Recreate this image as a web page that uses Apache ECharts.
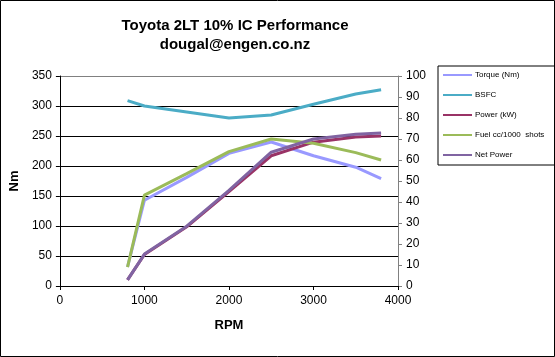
<!DOCTYPE html>
<html><head><meta charset="utf-8">
<script src="https://cdn.jsdelivr.net/npm/echarts@6/dist/echarts.min.js"></script>
<style>html,body{margin:0;padding:0;background:#fff}#c{width:555px;height:357px}</style>
</head><body><div id="c"></div>
<script>
const rpm = [800, 1000, 1500, 2000, 2500, 3000, 3500, 3800];
const torque = [32, 143, 181, 221, 240, 217, 198, 179];
const bsfc = [309, 300, 290, 280, 285, 303, 320, 327];
const power = [2.9, 15, 28.2, 45, 62, 68.5, 71, 71.4];
const fuel = [9, 43.3, 53.5, 64, 70, 68, 63.5, 60];
const netPower = [2.9, 15.2, 28.5, 45.5, 63.7, 70, 72.3, 72.8];
const seriesNames = ['Torque (Nm)', 'BSFC', 'Power (kW)', 'Fuel cc/1000  shots', 'Net Power'];
const titleLines = ['Toyota 2LT 10% IC Performance', 'dougal@engen.co.nz'];

const pair = arr => rpm.map((r, i) => [r, arr[i]]);
const font = 'Arial, "Liberation Sans", sans-serif';
const colors = ['#9999FF', '#4BACC6', '#993366', '#9BBB59', '#8064A2'];
const datas = [torque, bsfc, power, fuel, netPower];
const axisIdx = [0, 0, 1, 1, 1];

const chart = echarts.init(document.getElementById('c'), null, {renderer: 'canvas'});
chart.setOption({
  animation: false,
  backgroundColor: '#fff',
  textStyle: {fontFamily: font},
  graphic: [
    {type: 'rect', shape: {x: 0.5, y: 0.5, width: 554, height: 356}, style: {fill: 'none', stroke: '#000', lineWidth: 1}, z: 100},
    {type: 'text', x: 235, y: 26, style: {text: titleLines[0], font: 'bold 15px ' + font, fill: '#000', align: 'center', verticalAlign: 'middle'}},
    {type: 'text', x: 235, y: 45, style: {text: titleLines[1], font: 'bold 15px ' + font, fill: '#000', align: 'center', verticalAlign: 'middle'}}
  ],
  legend: {
    orient: 'vertical',
    left: 438, top: 66,
    padding: [5, 12, 6, 5],
    itemGap: 12,
    itemWidth: 29, itemHeight: 2,
    icon: 'rect',
    borderColor: '#000', borderWidth: 1,
    textStyle: {fontSize: 8, color: '#000', fontFamily: font, padding: [0, 0, 0, -2]},
    data: seriesNames
  },
  grid: {left: 59, right: 157, top: 76, bottom: 71},
  xAxis: {
    type: 'value', min: 0, max: 4000, interval: 1000,
    name: 'RPM', nameLocation: 'middle', nameGap: 33,
    nameTextStyle: {fontWeight: 'bold', fontSize: 13, color: '#000'},
    axisLine: {lineStyle: {color: '#000'}},
    axisTick: {show: true, length: 4, lineStyle: {color: '#000'}},
    axisLabel: {color: '#000', fontSize: 12, margin: 9, formatter: v => String(v)},
    splitLine: {show: false}
  },
  yAxis: [
    {
      type: 'value', min: 0, max: 350, interval: 50, position: 'left',
      name: 'Nm', nameLocation: 'middle', nameGap: 36, nameRotate: 90,
      nameTextStyle: {fontWeight: 'bold', fontSize: 13, color: '#000'},
      axisLine: {show: true, lineStyle: {color: '#000'}},
      axisTick: {show: true, length: 4, lineStyle: {color: '#000'}},
      axisLabel: {color: '#000', fontSize: 12, margin: 8},
      splitLine: {show: true, lineStyle: {color: ['#000', '#000', '#000', '#000', '#000', '#000', '#000', '#808080'], width: 1}}
    },
    {
      type: 'value', min: 0, max: 100, interval: 10, position: 'right',
      axisLine: {show: true, lineStyle: {color: '#808080'}},
      axisTick: {show: true, length: 4, lineStyle: {color: '#808080'}},
      axisLabel: {color: '#000', fontSize: 12, margin: 8},
      splitLine: {show: false}
    }
  ],
  series: seriesNames.map((n, i) => ({
    name: n, type: 'line', yAxisIndex: axisIdx[i],
    data: pair(datas[i]), symbol: 'none', smooth: false,
    lineStyle: {color: colors[i], width: 3}, itemStyle: {color: colors[i]}
  }))
});
</script></body></html>
